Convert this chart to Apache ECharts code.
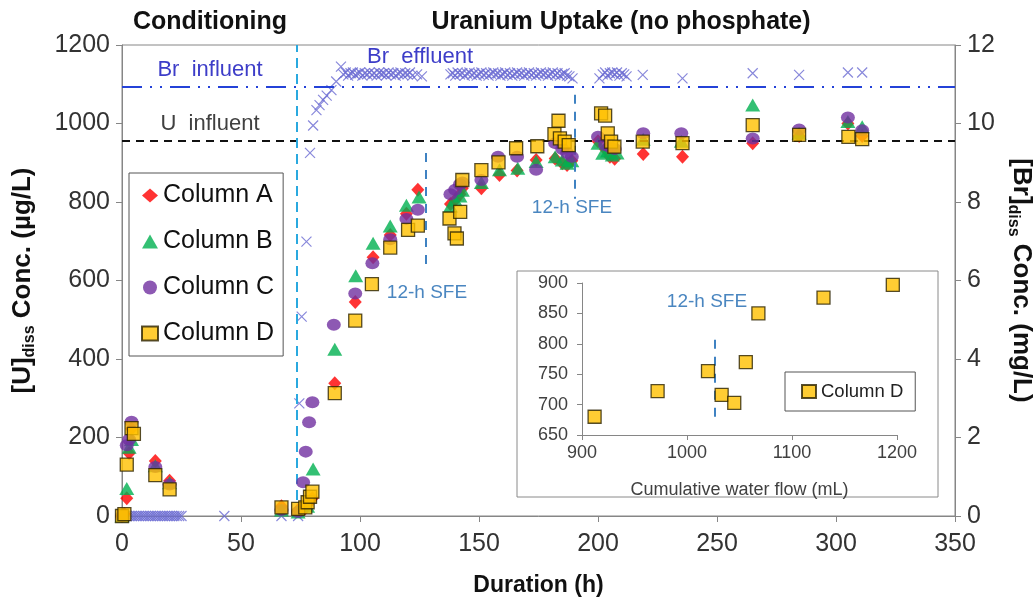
<!DOCTYPE html>
<html><head><meta charset="utf-8">
<script src="https://cdn.jsdelivr.net/npm/echarts/dist/echarts.min.js"></script>
<style>html,body{margin:0;padding:0;background:#fff}#c{width:1034px;height:601px}</style>
</head><body><div id="c"></div>
<script>
// ---------- data (Duration h, [U] ug/L) ----------
const colA = [[0,0],[1,5],[2,45],[3,160],[4,222],[14,140],[20,90],
  [67,25],[74,15],[77,20],[78,30],[80,45],
  [89.4,338],[98,545],[105.5,659],[112.7,716],[119.5,770],[124.3,831],
  [138,795],[140,805],[142,820],[143,835],[151,835],[158.6,869],[166,880],[174,907],[182,911],[185,899],[187,894],[189,905],
  [200,955],[203,935],[205,915],[207,910],[219,922],[235.5,915],[265,950],[284.5,968],[305,1000],[311,968]];
const colB = [[0,0],[2,70],[3,175],[4,195],[14,128],[20,85],
  [67,15],[74,10],[78,25],[80.3,120],[89.4,425],[98.2,612],[105.5,695],[112.7,739],[119.5,792],[124.8,813],
  [138,790],[140,805],[142,815],[143,830],[151,850],[158.6,882],[166.3,886],[174,903],[182,915],[185,907],[187,899],[189,905],
  [200,950],[202,924],[204,930],[206,920],[208,925],[219,960],[235,955],[265,1047],[284.5,975],[305,1005],[311,992]];
const colC = [[0,0],[2,180],[3,195],[4,240],[14,125],[20,80],
  [67,15],[74,10],[76.1,86],[77.2,164],[78.6,239],[80,290],[89,487],[98,567],[105.2,644],[112.7,705],[119.5,757],[124.3,780],
  [138,820],[140,831],[142,845],[143,850],[151,856],[158,915],[166,915],[174,882],[182,950],[185,935],[187,925],[189,915],
  [200,966],[203,945],[205,940],[207,935],[219,975],[235,975],[265,962],[284.5,985],[305,1015],[311,983]];
const colD = [[0,0],[1,5],[2,131],[4,224],[5,209],[14,104],[20,68],
  [67,22],[74,18],[77,22],[78,35],[79,49],[80,62],
  [89.4,313],[98,498],[105,591],[112.7,684],[120.2,729],[124.3,740],
  [137.6,758],[139.7,720],[140.7,707],[142.1,775],[143,856],[151,881],[158.2,901],[165.6,937],[174.5,942],
  [181.7,973],[183.4,1007],[184,962],[186,954],[187.7,945],
  [201.3,1026],[203,1020],[204.1,975],[205.5,954],[206.9,941],[218.8,954],[235.5,950],[265,996],[284.5,971],[305.2,966],[311,960]];
// Br effluent (Duration h, mg/L)
const brEffluent = [[0,0],[1,0],[2,0],[3,0],[4,0],[5,0],[6,0],[7,0],[8,0],[9,0],[10,0],[11,0],[12,0],[13,0],
  [14,0],[15,0],[16,0],[17,0],[18,0],[19,0],[20,0],[21,0],[22,0],[23,0],[24,0],[25,0],[43,0],[67,0],[74,0],
  [74.5,2.87],[75.5,5.08],[77.5,6.99],[79,9.25],[80.3,9.95],[81.7,10.34],[83,10.47],[84.5,10.6],[86,10.71],[88,10.85],[90,11.07],[92,11.45],
  [93,11.25],[94,11.3],[95,11.22],[96,11.28],[97,11.3],[98,11.24],[99,11.27],[100,11.3],[101,11.22],[102,11.28],[103,11.25],[104,11.3],
  [105,11.24],[106,11.28],[107,11.22],[108,11.3],[109,11.26],[110,11.28],[111,11.23],[112,11.3],[113,11.25],[114,11.28],[115,11.22],
  [116,11.27],[117,11.3],[118,11.24],[119,11.28],[120,11.25],[121,11.3],[122,11.22],[124,11.25],[126,11.2],
  [138,11.25],[139,11.28],[140,11.22],[141,11.3],[142,11.25],[143,11.28],[144,11.22],[145,11.27],[146,11.3],[147,11.24],[148,11.28],
  [149,11.22],[150,11.26],[151,11.3],[152,11.24],[153,11.28],[154,11.22],[155,11.27],[156,11.3],[157,11.25],[158,11.28],[159,11.22],
  [160,11.26],[161,11.3],[162,11.24],[163,11.28],[164,11.22],[165,11.26],[166,11.3],[167,11.25],[168,11.28],[169,11.22],[170,11.26],
  [171,11.3],[172,11.24],[173,11.28],[174,11.22],[175,11.26],[176,11.3],[177,11.25],[178,11.28],[179,11.22],[180,11.26],[181,11.3],
  [182,11.24],[183,11.28],[184,11.22],[185,11.26],[186,11.28],[187,11.22],[188,11.2],[189.3,11.15],
  [200.6,11.15],[202,11.25],[203,11.3],[204,11.22],[205,11.28],[206,11.3],[207,11.25],[208,11.3],[209,11.22],[210,11.28],[211,11.25],[212,11.2],
  [218.8,11.24],[235.5,11.15],[265,11.28],[284.5,11.24],[305,11.3],[311,11.3]];
// inset: cumulative water flow (mL) vs Column D [U]
const insetFlow = [912,972,1020,1033,1045,1056,1068,1130,1196];
const insetU    = [680,722,755,716,703,770,850,876,897];
// reference lines
const brInfluent = 10.93;      // mg/L
const uInfluent = 955;         // ug/L
const phaseBoundary = 73.5;    // h
const sfe1 = [[127.5,925],[127.5,632]];
const sfe2 = [[190.2,1073],[190.2,808]];
const insetSfe = [[1026,680],[1026,820]];

const FONT = '"Liberation Sans", Arial, Helvetica, sans-serif';
const chart = echarts.init(document.getElementById('c'), null, {renderer:'canvas'});
const axisGray = '#868686';
const lblColor = '#333';
const plain = v => String(v);

const option = {
  animation:false,
  backgroundColor:'#fff',
  textStyle:{fontFamily:FONT},
  grid:[
    {left:122, top:45, width:833, height:471, show:true, borderColor:axisGray, borderWidth:1, containLabel:false, outerBoundsMode:'none'},
    {left:582, top:283, width:315, height:152, containLabel:false, outerBoundsMode:'none'}
  ],
  xAxis:[
    {gridIndex:0, type:'value', min:0, max:350, interval:50,
     axisLine:{lineStyle:{color:axisGray}}, axisTick:{length:6, lineStyle:{color:axisGray}},
     axisLabel:{fontSize:25, color:lblColor, margin:16, fontFamily:FONT, formatter:plain}, splitLine:{show:false},
     name:'Duration (h)', nameLocation:'middle', nameGap:58,
     nameTextStyle:{fontSize:23, fontWeight:'bold', color:'#111', fontFamily:FONT}},
    {gridIndex:1, type:'value', min:900, max:1200, interval:100,
     axisLine:{lineStyle:{color:axisGray}}, axisTick:{length:5, lineStyle:{color:axisGray}},
     axisLabel:{fontSize:18, color:'#404040', margin:9, fontFamily:FONT, formatter:plain}, splitLine:{show:false},
     name:'Cumulative water flow (mL)', nameLocation:'middle', nameGap:46,
     nameTextStyle:{fontSize:18, color:'#404040', fontFamily:FONT}}
  ],
  yAxis:[
    {gridIndex:0, type:'value', min:0, max:1200, interval:200, position:'left',
     axisLine:{show:true, lineStyle:{color:axisGray}}, axisTick:{show:true, length:6, lineStyle:{color:axisGray}},
     axisLabel:{fontSize:25, color:lblColor, margin:12, fontFamily:FONT, formatter:plain}, splitLine:{show:false},
     name:'{b|[U]}{s|diss}{b| Conc. (µg/L)}', nameLocation:'middle', nameGap:84, nameRotate:90,
     nameTextStyle:{rich:{
       b:{fontSize:26, fontWeight:'bold', color:'#111', lineHeight:30, fontFamily:FONT},
       s:{fontSize:16, fontWeight:'bold', color:'#111', verticalAlign:'bottom', fontFamily:FONT}}}},
    {gridIndex:0, type:'value', min:0, max:12, interval:2, position:'right',
     axisLine:{show:true, lineStyle:{color:axisGray}}, axisTick:{show:true, length:6, lineStyle:{color:axisGray}},
     axisLabel:{fontSize:25, color:lblColor, margin:12, fontFamily:FONT, formatter:plain}, splitLine:{show:false},
     name:'{b|[Br]}{s|diss}{b| Conc. (mg/L)}', nameLocation:'middle', nameGap:40, nameRotate:-90,
     nameTextStyle:{rich:{
       b:{fontSize:26, fontWeight:'bold', color:'#111', lineHeight:30, fontFamily:FONT},
       s:{fontSize:16, fontWeight:'bold', color:'#111', verticalAlign:'bottom', fontFamily:FONT}}}},
    {gridIndex:1, type:'value', min:650, max:900, interval:50,
     axisLine:{show:true, lineStyle:{color:axisGray}}, axisTick:{show:true, length:5, lineStyle:{color:axisGray}},
     axisLabel:{fontSize:18, color:'#404040', margin:14, fontFamily:FONT, formatter:plain}, splitLine:{show:false}}
  ],
  legend:[
    {data:['Column A','Column B','Column C','Column D'], orient:'vertical', left:129, top:173,
     padding:[10,9,10,12], itemGap:21, itemWidth:16, itemHeight:14,
     borderColor:'#555', borderWidth:1, backgroundColor:'#fff',
     textStyle:{fontSize:25, color:'#111', fontFamily:FONT}, selectedMode:false},
    {data:['Column D'], orient:'vertical', left:785, top:372,
     padding:[10,12,10,16], itemWidth:14, itemHeight:13, itemGap:4,
     borderColor:'#555', borderWidth:1, backgroundColor:'#fff',
     textStyle:{fontSize:18.5, color:'#222', fontFamily:FONT}, selectedMode:false}
  ],
  series:[
    {name:'Br effluent', type:'scatter', xAxisIndex:0, yAxisIndex:1, data:brEffluent,
     symbol:'path://M0,0L10,10M10,0L0,10', symbolSize:10, z:1,
     itemStyle:{color:'rgba(0,0,0,0)', borderColor:'#6a6ad2', borderWidth:1.2},
     markLine:{silent:true, symbol:['none','none'], label:{show:false},
       data:[{yAxis:brInfluent, lineStyle:{color:'#2442d8', width:2.2, type:[20,8,2,8,2,8]}}]}},
    {name:'Column A', type:'scatter', xAxisIndex:0, yAxisIndex:0, data:colA, symbol:'diamond', symbolSize:[13,14],
     itemStyle:{color:'#ff0000'}, z:3,
     markLine:{silent:true, symbol:['none','none'], label:{show:false},
       data:[
         {yAxis:uInfluent, lineStyle:{color:'#111', width:2, type:[8,6]}},
         {xAxis:phaseBoundary, lineStyle:{color:'#2aa9df', width:2, type:[10,6]}},
         [{coord:sfe1[0], lineStyle:{color:'#3f82c2', width:2, type:[9,8]}},{coord:sfe1[1]}],
         [{coord:sfe2[0], lineStyle:{color:'#3f82c2', width:2, type:[9,8]}},{coord:sfe2[1]}]
       ]}},
    {name:'Column B', type:'scatter', xAxisIndex:0, yAxisIndex:0, data:colB, symbol:'triangle', symbolSize:[15,13],
     itemStyle:{color:'#00b050'}, z:4},
    {name:'Column C', type:'scatter', xAxisIndex:0, yAxisIndex:0, data:colC, symbol:'circle', symbolSize:[14,12],
     itemStyle:{color:'#7030a0'}, z:5},
    {name:'Column D', type:'scatter', xAxisIndex:0, yAxisIndex:0, data:colD, symbol:'rect', symbolSize:13,
     itemStyle:{color:'#ffc000', borderColor:'#2a2200', borderWidth:1.3}, z:6},
    {name:'Column D', type:'scatter', xAxisIndex:1, yAxisIndex:2, data:insetFlow.map((f,i)=>[f,insetU[i]]),
     symbol:'rect', symbolSize:13, itemStyle:{color:'#ffc000', borderColor:'#2a2200', borderWidth:1.3}, z:6,
     markLine:{silent:true, symbol:['none','none'], label:{show:false},
       data:[[{coord:insetSfe[0], lineStyle:{color:'#3f82c2', width:2, type:[9,8]}},{coord:insetSfe[1]}]]}}
  ]
};
chart.setOption(option);

function txt(x,y,text,font,fill){
  return {type:'text', x:x, y:y, z:50, style:{text:text, font:font, fill:fill, textAlign:'center', textVerticalAlign:'middle', verticalAlign:'middle'}};
}
chart.setOption({graphic:[
  {type:'rect', z:0, shape:{x:517, y:271, width:421, height:226}, style:{fill:'none', stroke:'#8a8a8a', lineWidth:1}},
  txt(210,22,'Conditioning','bold 25px '+FONT,'#111'),
  txt(621,22,'Uranium Uptake (no phosphate)','bold 25px '+FONT,'#111'),
  txt(420,57,'Br  effluent','22px '+FONT,'#3d3dc8'),
  txt(210,70,'Br  influent','22px '+FONT,'#3d3dc8'),
  txt(210,124,'U  influent','22px '+FONT,'#404040'),
  txt(427,293,'12-h SFE','19px '+FONT,'#4a86c0'),
  txt(572,208,'12-h SFE','19px '+FONT,'#4a86c0'),
  txt(707,302,'12-h SFE','19px '+FONT,'#4a86c0')
]});
</script></body></html>
